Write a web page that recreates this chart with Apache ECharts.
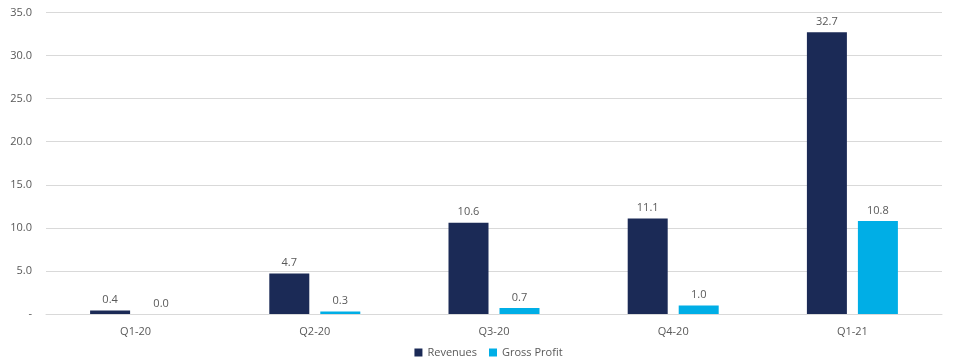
<!DOCTYPE html>
<html><head><meta charset="utf-8">
<script src="https://cdn.jsdelivr.net/npm/echarts@6/dist/echarts.min.js"></script>
<style>html,body{margin:0;padding:0;background:#fff}#c{width:977px;height:364px}</style>
</head><body><div id="c"></div>
<script>
const categories = ['Q1-20','Q2-20','Q3-20','Q4-20','Q1-21'];
const revenues = [0.4, 4.7, 10.6, 11.1, 32.7];
const grossProfit = [0.0, 0.3, 0.7, 1.0, 10.8];
const seriesNames = ['Revenues','Gross Profit'];

const chart = echarts.init(document.getElementById('c'));
const font = '"Open Sans", sans-serif';
const txt = '#595959';
chart.setOption({
  animation: false,
  textStyle: {fontFamily: font},
  grid: {left: 46, right: 35, top: 12.5, bottom: 50, containLabel: false},
  legend: {
    bottom: 1, left: 'center', itemWidth: 8, itemHeight: 8, itemGap: 12,
    icon: 'rect',
    textStyle: {color: txt, fontSize: 11, fontFamily: font},
    data: seriesNames
  },
  xAxis: {
    type: 'category', data: categories,
    axisLine: {lineStyle: {color: '#d9d9d9'}},
    axisTick: {show: false},
    axisLabel: {color: txt, fontSize: 11, margin: 12, fontFamily: font}
  },
  yAxis: {
    type: 'value', min: 0, max: 35, interval: 5,
    axisLine: {show: false}, axisTick: {show: false},
    splitLine: {lineStyle: {color: '#d9d9d9'}},
    axisLabel: {color: txt, fontSize: 11, margin: 14, fontFamily: font,
      formatter: v => v === 0 ? '-' : v.toFixed(1)}
  },
  series: [
    {name: seriesNames[0], type: 'bar', data: revenues, barWidth: 40, barGap: '27.5%',
     itemStyle: {color: '#1b2a56'},
     label: {show: true, position: 'top', color: txt, fontSize: 11, distance: 5, fontFamily: font,
       formatter: p => p.value.toFixed(1)}},
    {name: seriesNames[1], type: 'bar', data: grossProfit, barWidth: 40,
     itemStyle: {color: '#00aee6'},
     label: {show: true, position: 'top', color: txt, fontSize: 11, distance: 5, fontFamily: font,
       formatter: p => p.value.toFixed(1)}}
  ]
});
</script></body></html>
